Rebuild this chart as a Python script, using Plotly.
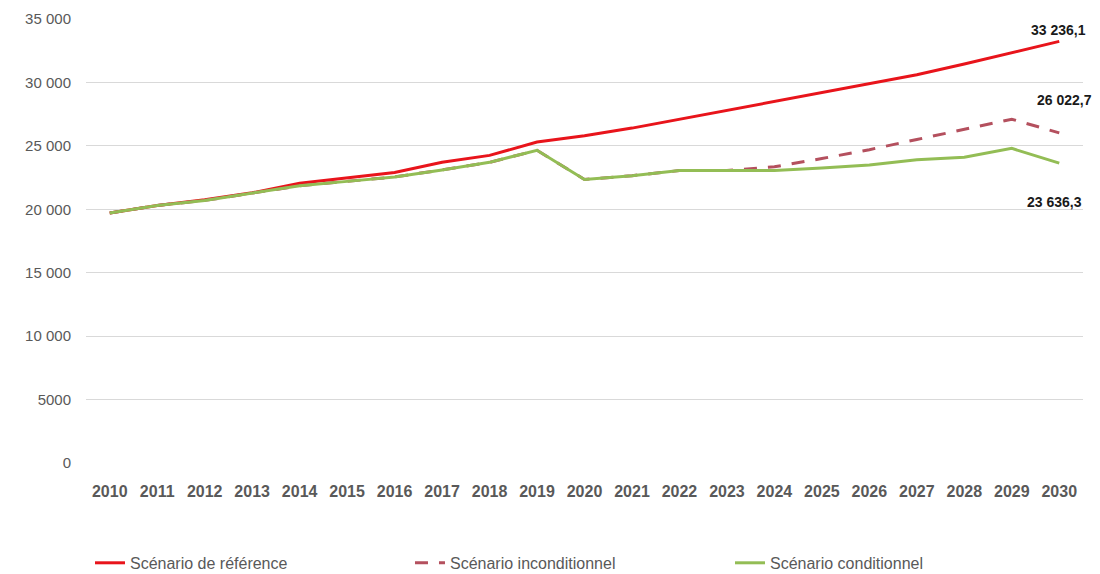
import plotly.graph_objects as go

years = list(range(2010, 2031))
reference = [19700, 20300, 20750, 21300, 22050, 22450, 22900, 23700, 24250, 25300,
             25800, 26400, 27100, 27750, 28500, 29200, 29900, 30600, 31450, 32350, 33236.1]
inconditionnel = [19700, 20300, 20700, 21250, 21850, 22200, 22550, 23100, 23700, 24650,
                  22350, 22650, 23050, 23050, 23350, 24000, 24700, 25500, 26300, 27100, 26022.7]
conditionnel = [19700, 20300, 20700, 21250, 21850, 22200, 22550, 23100, 23700, 24650,
                22350, 22650, 23050, 23050, 23050, 23250, 23500, 23900, 24100, 24800, 23636.3]
y_ticks = [0, 5000, 10000, 15000, 20000, 25000, 30000, 35000]
y_tick_labels = ["0", "5000", "10 000", "15 000", "20 000", "25 000", "30 000", "35 000"]
end_labels = ["33 236,1", "26 022,7", "23 636,3"]

font = "Liberation Sans, Arial, sans-serif"

fig = go.Figure()
fig.add_trace(go.Scatter(x=years, y=reference, mode="lines", name="Scénario de référence",
                         line=dict(color="#e8141b", width=3)))
fig.add_trace(go.Scatter(x=years, y=inconditionnel, mode="lines", name="Scénario inconditionnel",
                         line=dict(color="#b4505e", width=3, dash="13px,11px")))
fig.add_trace(go.Scatter(x=years, y=conditionnel, mode="lines", name="Scénario conditionnel",
                         line=dict(color="#93bd55", width=3)))

shifts = [(-1, 11), (5, 33), (-5, -39)]
finals = [reference[-1], inconditionnel[-1], conditionnel[-1]]
for lab, val, (dx, dy) in zip(end_labels, finals, shifts):
    fig.add_annotation(x=years[-1], y=val, text="<b>" + lab + "</b>", showarrow=False,
                       xshift=dx, yshift=dy, font=dict(family=font, size=14, color="#1a1a1a"))

# page body adds an 8px margin, so the figure is 8px smaller and margins compensate
fig.update_layout(
    width=1092, height=566,
    margin=dict(l=78, r=17, t=11, b=111, autoexpand=False),
    plot_bgcolor="white", paper_bgcolor="white",
    font=dict(family=font, color="#595959"),
    showlegend=True,
    legend=dict(orientation="h", x=0.004, xanchor="left", y=-0.225, yanchor="middle",
                entrywidth=275, entrywidthmode="pixels",
                font=dict(family=font, size=16, color="#595959")),
    xaxis=dict(range=[2009.5, 2030.5], tickmode="array", tickvals=years,
               ticktext=["<b>%d</b>" % y for y in years],
               showgrid=False, zeroline=False, showline=False,
               ticks="", ticklabelstandoff=17,
               tickfont=dict(family=font, size=16, color="#595959")),
    yaxis=dict(range=[0, 35000], tickvals=y_ticks, ticktext=y_tick_labels,
               showgrid=True, gridcolor="#d9d9d9", gridwidth=1, zeroline=False,
               showline=False, ticks="", ticklabelstandoff=14,
               tickfont=dict(family=font, size=15, color="#595959")),
)

fig.write_html("out.html")
